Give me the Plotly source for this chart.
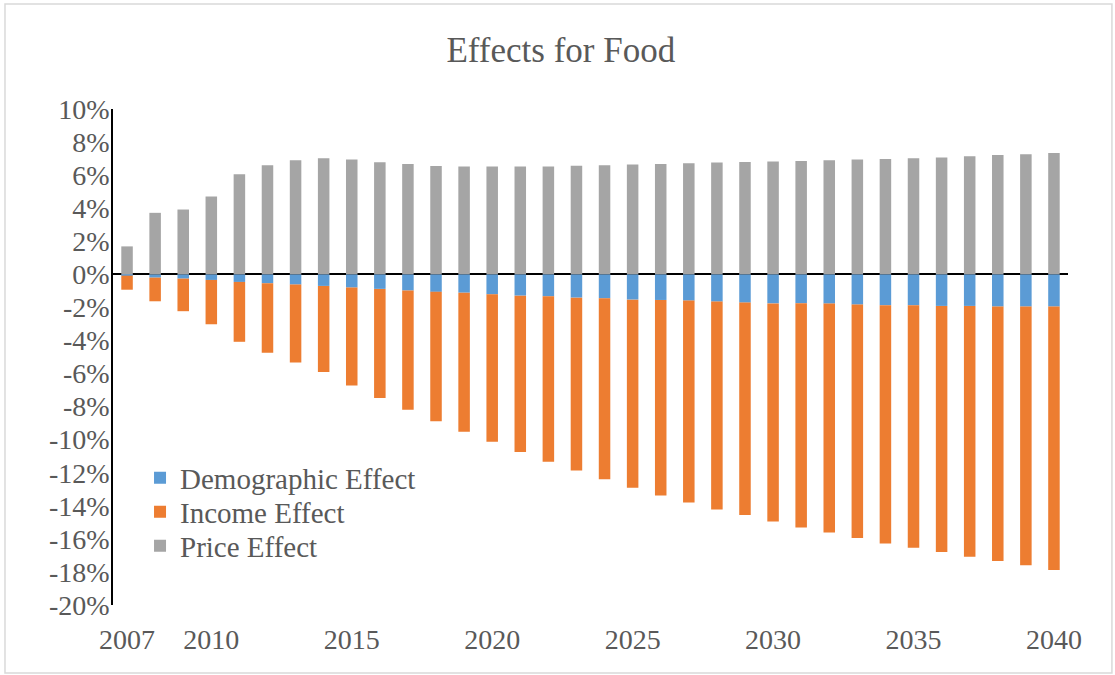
import plotly.graph_objects as go

years = list(range(2007, 2041))

demographic = [-0.08, -0.20, -0.26, -0.34, -0.46, -0.54, -0.62, -0.70, -0.80, -0.88,
               -0.98, -1.06, -1.11, -1.21, -1.29, -1.33, -1.41, -1.45, -1.53, -1.55,
               -1.59, -1.65, -1.71, -1.76, -1.75, -1.77, -1.83, -1.87, -1.87, -1.91,
               -1.91, -1.95, -1.95, -1.95]

income = [-0.85, -1.43, -1.97, -2.68, -3.62, -4.21, -4.71, -5.21, -5.92, -6.60,
          -7.21, -7.82, -8.41, -8.91, -9.45, -10.00, -10.46, -10.94, -11.38, -11.83,
          -12.21, -12.57, -12.85, -13.19, -13.56, -13.84, -14.12, -14.41, -14.67, -14.89,
          -15.17, -15.39, -15.65, -15.93]

price = [1.69, 3.72, 3.92, 4.71, 6.05, 6.60, 6.90, 7.02, 6.94, 6.78,
         6.68, 6.55, 6.52, 6.52, 6.52, 6.52, 6.56, 6.60, 6.64, 6.68,
         6.72, 6.76, 6.80, 6.82, 6.86, 6.90, 6.94, 6.98, 7.02, 7.06,
         7.14, 7.22, 7.26, 7.34]

x_tick_vals = [2007, 2010, 2015, 2020, 2025, 2030, 2035, 2040]
x_tick_text = ["2007", "2010", "2015", "2020", "2025", "2030", "2035", "2040"]
y_tick_vals = [10, 8, 6, 4, 2, 0, -2, -4, -6, -8, -10, -12, -14, -16, -18, -20]
y_tick_text = ["10%", "8%", "6%", "4%", "2%", "0%", "-2%", "-4%", "-6%", "-8%",
               "-10%", "-12%", "-14%", "-16%", "-18%", "-20%"]

FONT = "Liberation Serif"
TXT = "#595959"

fig = go.Figure()
fig.add_trace(go.Bar(x=years, y=demographic, name="Demographic Effect",
                     marker=dict(color="#5B9BD5", line=dict(width=0)), legend="legend"))
fig.add_trace(go.Bar(x=years, y=income, name="Income Effect",
                     marker=dict(color="#ED7D31", line=dict(width=0)), legend="legend2"))
fig.add_trace(go.Bar(x=years, y=price, name="Price Effect",
                     marker=dict(color="#A5A5A5", line=dict(width=0)), legend="legend3"))

def leg(y):
    return dict(x=0.0283, xanchor="left", y=y, yanchor="middle",
                bgcolor="rgba(0,0,0,0)", itemwidth=30,
                font=dict(family=FONT, size=29, color=TXT))

fig.update_layout(
    width=1115, height=675,
    barmode="relative",
    bargap=0.59,
    showlegend=True,
    paper_bgcolor="white",
    plot_bgcolor="white",
    margin=dict(l=113, r=47, t=109, b=70),
    font=dict(family=FONT, color=TXT),
    title=dict(text="Effects for Food", x=0.503, xanchor="center",
               y=0.926, yanchor="middle",
               font=dict(family=FONT, size=35, color=TXT)),
    legend=leg(0.256),
    legend2=leg(0.1875),
    legend3=leg(0.119),
    xaxis=dict(range=[2006.5, 2040.5], tickmode="array",
               tickvals=x_tick_vals, ticktext=x_tick_text,
               showgrid=False, zeroline=False, showline=False, ticks="",
               ticklabelstandoff=15,
               tickfont=dict(family=FONT, size=28, color=TXT)),
    yaxis=dict(range=[-20, 10], tickmode="array",
               tickvals=y_tick_vals, ticktext=y_tick_text,
               showgrid=False, zeroline=True, zerolinecolor="black",
               zerolinewidth=2, showline=True, linecolor="black", linewidth=1.5,
               ticks="", ticklabelstandoff=-4,
               tickfont=dict(family=FONT, size=28, color=TXT)),
    shapes=[dict(type="rect", xref="paper", yref="paper",
                 x0=-0.1131, x1=1.046, y0=-0.137, y1=1.2117,
                 line=dict(color="#D9D9D9", width=1.5), layer="below")],
)

fig.write_html("out.html", config={"displayModeBar": False},
               post_script="document.body.style.margin='0';")
